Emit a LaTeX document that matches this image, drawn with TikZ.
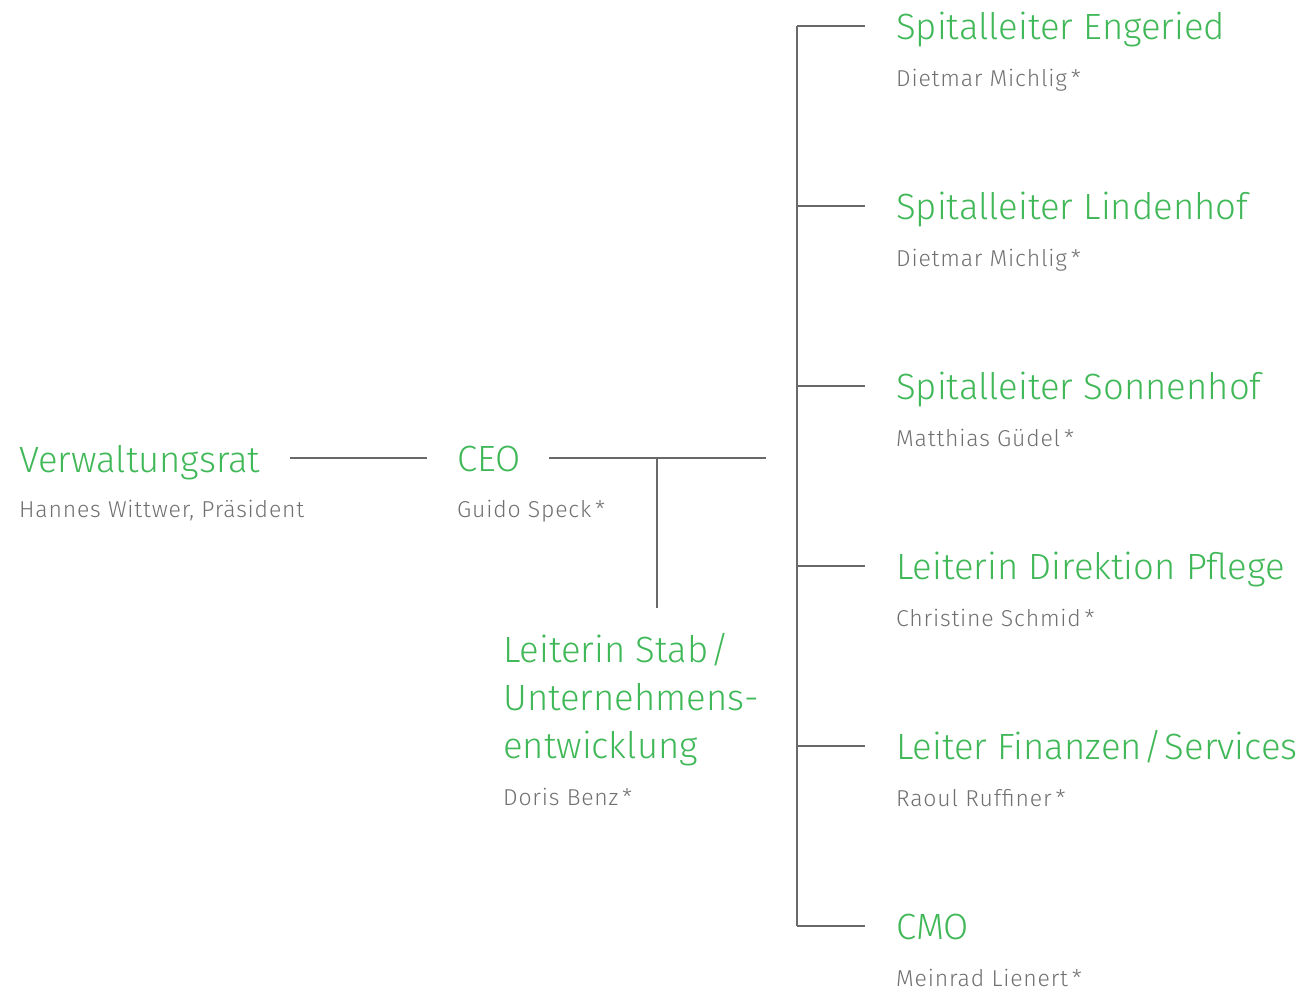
\documentclass[tikz,border=0pt]{standalone}
\usepackage{fontspec}
\setmainfont{Fira Sans Light}
\newfontfamily\subfont[LetterSpace=3.5]{Fira Sans Light}
\definecolor{tgreen}{RGB}{64,184,88}
\definecolor{tgrey}{RGB}{112,112,112}
\definecolor{lgrey}{RGB}{105,105,105}
\tikzset{
  title/.style={anchor=base west, inner sep=0pt, text=tgreen, font=\fontsize{36.5}{48}\selectfont},
  sub/.style={anchor=base west, inner sep=0pt, text=tgrey, font=\subfont\fontsize{23}{26}\selectfont},
  conn/.style={draw=lgrey, line width=1.6pt},
}
\begin{document}
\begin{tikzpicture}[x=1pt,y=-1pt]
\useasboundingbox (0,0) rectangle (1306,989);
% left
\node[title] (vr) at (19,472) {Verwaltungsrat};
\node[sub] (vrs) at (19,517) {Hannes Wittwer, Präsident};
\node[title] (ceo) at (457,471) {CEO};
\node[sub] (ceos) at (457,517) {Guido Speck\,*};
\node[title, align=left] (stab) at (503,758) {Leiterin Stab\kern2pt/\\Unternehmens-\\entwicklung};
\node[sub] (stabs) at (503,805) {Doris Benz\,*};
% right column
\foreach \i/\t/\s in {0/{Spitalleiter Engeried}/{Dietmar Michlig\,*},
                      1/{Spitalleiter Lindenhof}/{Dietmar Michlig\,*},
                      2/{Spitalleiter Sonnenhof}/{Matthias Güdel\,*},
                      3/{Leiterin Direktion Pflege}/{Christine Schmid\,*},
                      4/{Leiter Finanzen\kern2pt/\kern2pt Services}/{Raoul Ruffiner\,*},
                      5/{CMO}/{Meinrad Lienert\,*}}{
  \node[title] (r\i) at (896,39+180*\i) {\t};
  \node[sub] (r\i s) at (896,86+180*\i) {\s};
  \coordinate (b\i) at (797,26+180*\i);
  \coordinate (e\i) at (865,26+180*\i);
  \draw[conn] (b\i) -- (e\i);
}
\draw[conn] (b0) -- (b5);
% connectors
\coordinate (vrR) at (290,458);
\coordinate (ceoL) at (427,458);
\coordinate (ceoR) at (549,458);
\coordinate (busL) at (766,458);
\coordinate (tee) at (657,458);
\coordinate (stabT) at (657,608);
\draw[conn] (vrR) -- (ceoL);
\draw[conn] (ceoR) -- (busL);
\draw[conn] (tee) -- (stabT);
\end{tikzpicture}
\end{document}
